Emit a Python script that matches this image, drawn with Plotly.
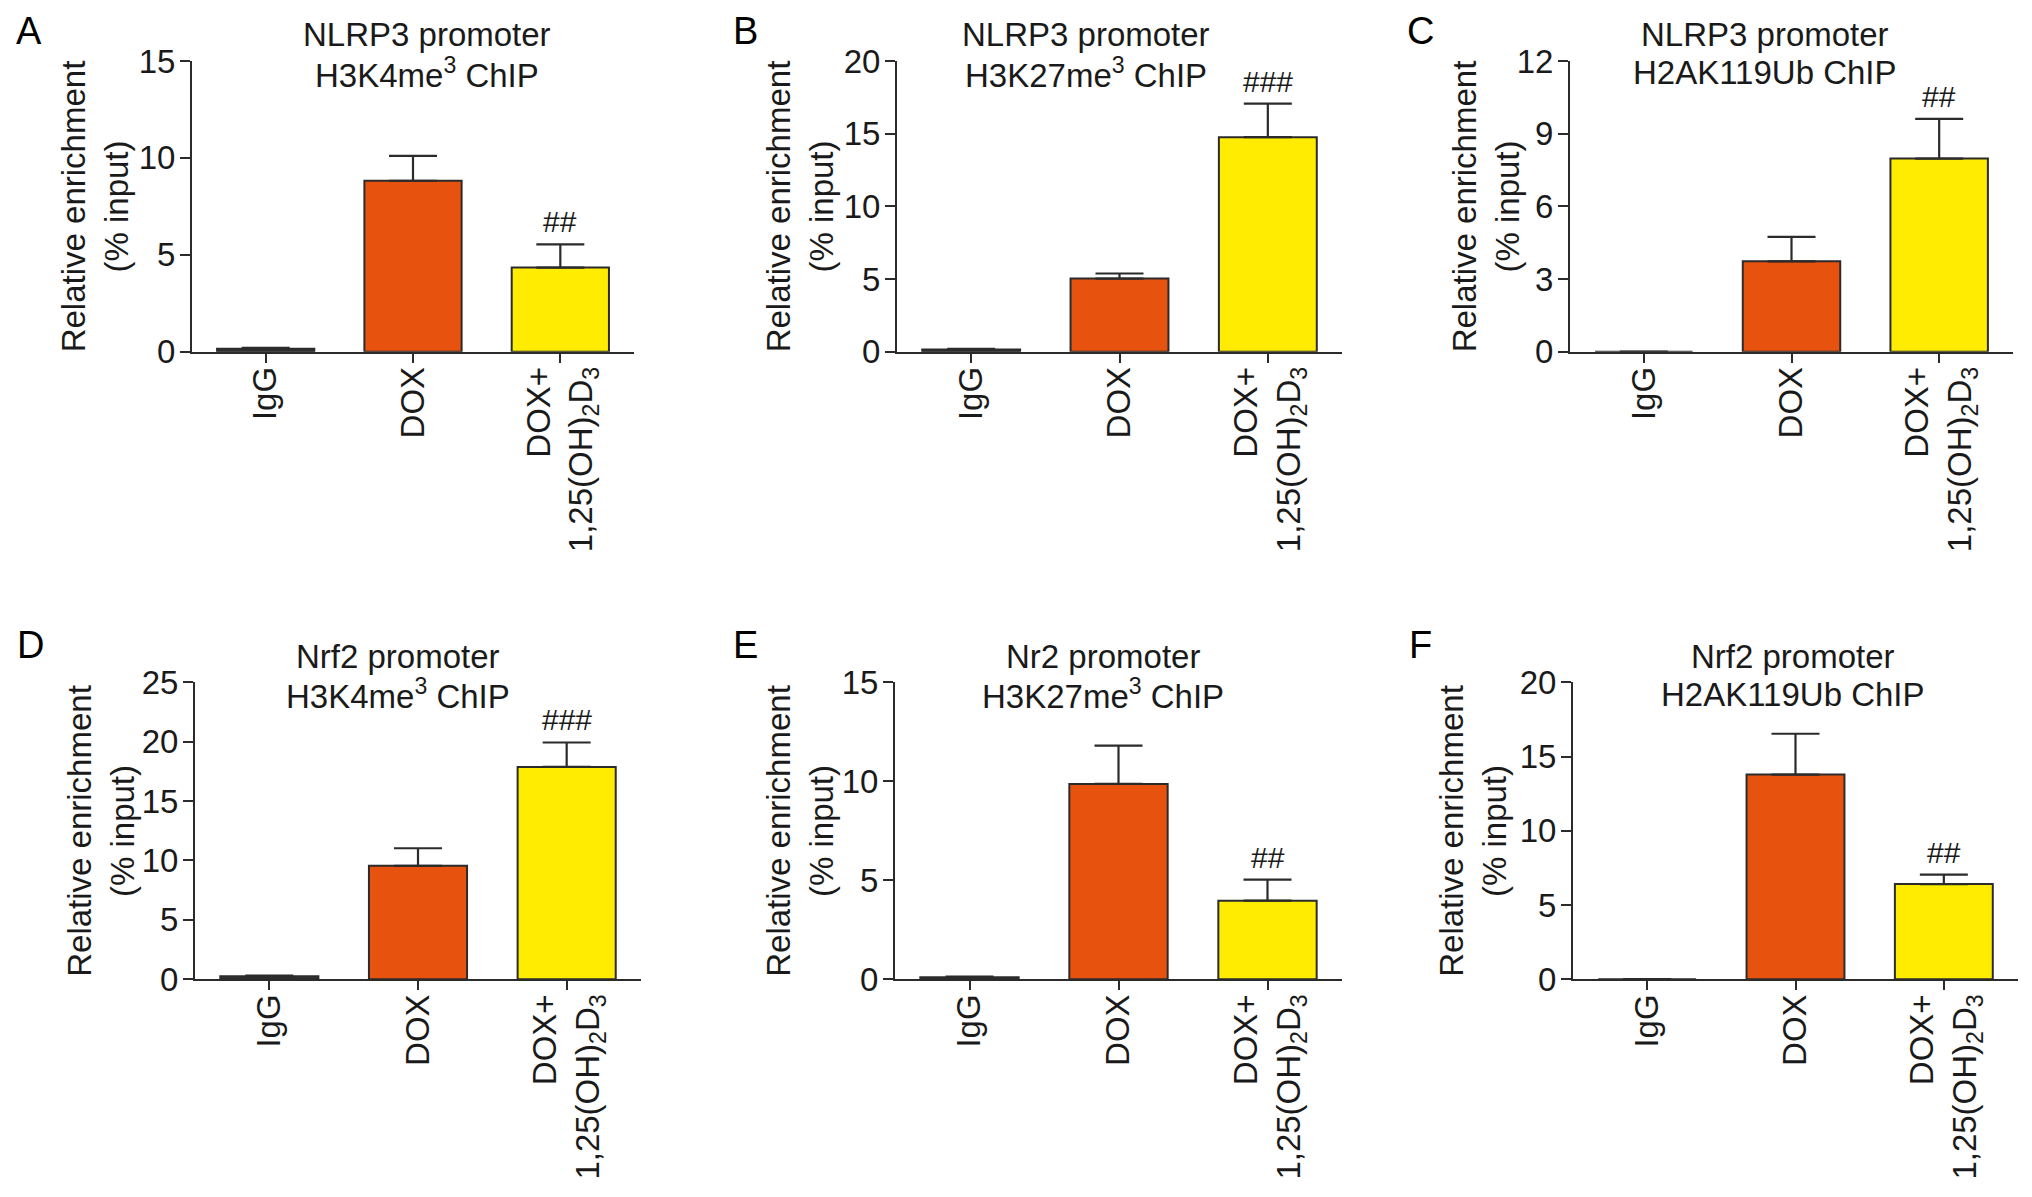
import plotly.graph_objects as go

W, H = 2032, 1197

categories = ["IgG", "DOX", "DOX+<br>1,25(OH)<sub>2</sub>D<sub>3</sub>"]
bar_colors = ["#333333", "#E8520F", "#FFEC00"]

# panel data (mean, SEM, significance marks)
means_A = [0.15, 8.82, 4.34]
sem_A = [0.05, 1.28, 1.20]
sig_A = ["", "", "##"]

means_B = [0.15, 5.03, 14.76]
sem_B = [0.05, 0.35, 2.30]
sig_B = ["", "", "###"]

means_C = [0.0, 3.73, 7.97]
sem_C = [0.0, 1.01, 1.64]
sig_C = ["", "", "##"]

means_D = [0.25, 9.55, 17.88]
sem_D = [0.05, 1.48, 2.06]
sig_D = ["", "", "###"]

means_E = [0.10, 9.87, 3.97]
sem_E = [0.03, 1.94, 1.06]
sig_E = ["", "", "##"]

means_F = [0.0, 13.79, 6.41]
sem_F = [0.0, 2.75, 0.64]
sig_F = ["", "", "##"]

titles_line1 = ["NLRP3 promoter", "NLRP3 promoter", "NLRP3 promoter",
                "Nrf2 promoter", "Nr2 promoter", "Nrf2 promoter"]
titles_line2 = ["H3K4me<sup>3</sup> ChIP", "H3K27me<sup>3</sup> ChIP", "H2AK119Ub ChIP",
                "H3K4me<sup>3</sup> ChIP", "H3K27me<sup>3</sup> ChIP", "H2AK119Ub ChIP"]
panel_letters = ["A", "B", "C", "D", "E", "F"]
y_max = [15, 20, 12, 25, 15, 20]
y_dtick = [5, 5, 3, 5, 5, 5]
y_title = "Relative enrichment<br>(% input)"

panels = [
    (means_A, sem_A, sig_A), (means_B, sem_B, sig_B), (means_C, sem_C, sig_C),
    (means_D, sem_D, sig_D), (means_E, sem_E, sig_E), (means_F, sem_F, sig_F),
]

# layout geometry in pixels
x_dom_px = [(192, 634), (897, 1342), (1570, 2013),
            (195, 641), (895, 1342), (1573, 2018)]
y_dom_px = [(61, 352)] * 3 + [(683, 980)] * 3
title_x_px = [427, 1086, 1765, 398, 1103, 1793]
ytitle_x_px = [95, 800, 1486, 101, 800, 1473]
letter_pos_px = [(29, 31), (745, 31), (1420, 31), (30, 646), (745, 646), (1420, 646)]

FONT = "Liberation Sans, Arial, Helvetica, sans-serif"
AX = "#2b2b2b"
FS = 33


def px_x(v):
    return v / W


def px_y(v):
    # vertical placement calibrated against the rendered picture
    return 1 - (v - 18) / 1161


fig = go.Figure()
annotations = []

for i, (means, sems, sigs) in enumerate(panels):
    n = i + 1
    xa = "x" if n == 1 else f"x{n}"
    ya = "y" if n == 1 else f"y{n}"
    fig.add_trace(go.Bar(
        x=categories, y=means, xaxis=xa, yaxis=ya,
        marker=dict(color=bar_colors, line=dict(color=AX, width=2)),
        width=0.66,
        error_y=dict(type="data", array=sems, arrayminus=[0] * len(sems), symmetric=False,
                     color=AX, thickness=2.2, width=24),
        showlegend=False, hoverinfo="skip",
    ))
    xd = x_dom_px[i]
    yd = y_dom_px[i]
    fig.layout[f"xaxis{'' if n == 1 else n}"] = dict(
        domain=[px_x(xd[0]), px_x(xd[1])], anchor=ya, type="category",
        categoryorder="array", categoryarray=categories, range=[-0.5, 2.5],
        showline=True, linecolor=AX, linewidth=2, ticks="outside", ticklen=9,
        tickwidth=2, tickcolor=AX, tickangle=-90, showgrid=False, zeroline=False,
        ticklabelstandoff=-9,
        tickfont=dict(family=FONT, size=FS, color="#1a1a1a"), fixedrange=True,
    )
    fig.layout[f"yaxis{'' if n == 1 else n}"] = dict(
        domain=[px_y(yd[1]), px_y(yd[0])], anchor=xa, range=[0, y_max[i]],
        tickmode="linear", tick0=0, dtick=y_dtick[i],
        showline=True, linecolor=AX, linewidth=2, ticks="outside", ticklen=10,
        tickwidth=2, tickcolor=AX, showgrid=False, zeroline=False,
        ticklabelstandoff=-2,
        tickfont=dict(family=FONT, size=FS, color="#1a1a1a"), fixedrange=True,
    )
    # significance marks
    for j, s in enumerate(sigs):
        if s:
            annotations.append(dict(
                x=categories[j], y=means[j] + sems[j], xref=xa, yref=ya,
                text=s, showarrow=False, yanchor="bottom", yshift=4,
                font=dict(family=FONT, size=30, color="#1a1a1a"),
            ))
    # titles
    annotations.append(dict(
        x=px_x(title_x_px[i]), y=px_y(yd[0] - 26), xref="paper", yref="paper",
        text=titles_line1[i], showarrow=False, xanchor="center", yanchor="middle",
        font=dict(family=FONT, size=FS, color="#1a1a1a"),
    ))
    annotations.append(dict(
        x=px_x(title_x_px[i]), y=px_y(yd[0] + 12), xref="paper", yref="paper",
        text=titles_line2[i], showarrow=False, xanchor="center", yanchor="middle",
        font=dict(family=FONT, size=FS, color="#1a1a1a"),
    ))
    # y-axis title
    annotations.append(dict(
        x=px_x(ytitle_x_px[i]), y=px_y((yd[0] + yd[1]) / 2), xref="paper", yref="paper",
        text=y_title, showarrow=False, xanchor="center", yanchor="middle", textangle=-90,
        font=dict(family=FONT, size=FS, color="#1a1a1a"),
    ))
    # panel letter
    lx, ly = letter_pos_px[i]
    annotations.append(dict(
        x=px_x(lx), y=px_y(ly), xref="paper", yref="paper",
        text=panel_letters[i], showarrow=False, xanchor="center", yanchor="middle",
        font=dict(family=FONT, size=38, color="#000000"),
    ))

fig.update_layout(
    width=W, height=H, margin=dict(l=0, r=0, t=0, b=0),
    paper_bgcolor="white", plot_bgcolor="white",
    annotations=annotations, bargap=0.34,
)

fig.write_html(
    "out.html",
    config={"displayModeBar": False},
    post_script="document.body.style.margin='0px';document.body.style.overflow='hidden';",
)
